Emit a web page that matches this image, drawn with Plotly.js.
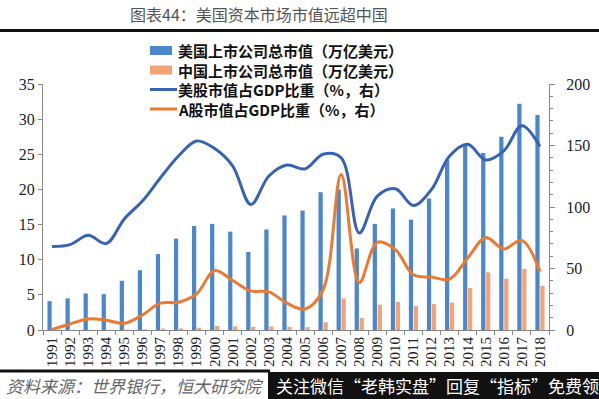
<!DOCTYPE html>
<html>
<head>
<meta charset="utf-8">
<script src="https://cdn.plot.ly/plotly-3.0.1.min.js"></script>
<style>html,body{margin:0;padding:0;background:#fff;}#chart{width:599px;height:399px;}</style>
</head>
<body>
<div id="chart"></div>
<script>
const years = ['1991','1992','1993','1994','1995','1996','1997','1998','1999','2000','2001','2002','2003','2004','2005','2006','2007','2008','2009','2010','2011','2012','2013','2014','2015','2016','2017','2018'];
const usCap = [4.1,4.5,5.2,5.1,7.0,8.5,10.8,13.0,14.8,15.1,14.0,11.1,14.3,16.3,17.0,19.6,20.0,11.6,15.1,17.3,15.7,18.7,24.2,26.4,25.2,27.5,32.2,30.6];
const cnCap = [0.02,0.03,0.04,0.04,0.04,0.1,0.2,0.23,0.33,0.58,0.52,0.46,0.51,0.45,0.4,1.1,4.5,1.7,3.6,4.0,3.4,3.7,3.9,6.0,8.2,7.3,8.7,6.3];
const usRatio = [67.8,69.4,77,70.2,90.3,104.8,123.8,141.5,153.7,147.5,133.3,102,125.2,134.1,131,142.9,140,78.9,108.8,114.8,101.2,114.3,141.5,151,138.2,145.6,166,149.1];
const cnRatio = [0.5,4.9,9,7.9,5.4,12.2,21.8,22.6,29.4,48.4,40.2,31.8,31,21.8,17,32.7,126.5,38.6,71.3,65.3,44.9,43,41.4,58.5,75.1,65.9,72.9,47.6];
const seriesNames = ['美国上市公司总市值（万亿美元）','中国上市公司总市值（万亿美元）','美股市值占GDP比重（%，右）','A股市值占GDP比重（%，右）'];
const seriesColors = ['#4a87cc','#f3a374','#3763b3','#ec7a30'];
const titleText = '图表44：美国资本市场市值远超中国';
const sourceText = '资料来源：世界银行，恒大研究院';
const bannerText = '关注微信“老韩实盘”回复“指标”免费领';

// plot area in pixels
const L = 43, R = 549, T = 84, B = 330, W = 599, H = 399;
const px = x => (x - L) / (R - L);
const py = y => (B - y) / (B - T);

const serif = 'Liberation Serif, DejaVu Serif, serif';
const cjk = 'Noto Sans CJK SC, sans-serif';

const traces = [
  {type:'bar', name:seriesNames[0], x:years, y:usCap, marker:{color:seriesColors[0], line:{width:0}}},
  {type:'bar', name:seriesNames[1], x:years, y:cnCap, marker:{color:seriesColors[1], line:{width:0}}},
  {type:'scatter', mode:'lines', name:seriesNames[2], x:years, y:usRatio, yaxis:'y2', line:{color:seriesColors[2], width:3, shape:'spline', smoothing:1}},
  {type:'scatter', mode:'lines', name:seriesNames[3], x:years, y:cnRatio, yaxis:'y2', line:{color:seriesColors[3], width:3, shape:'spline', smoothing:1}}
];

// custom legend (layout only)
const legRows = [50.5, 70, 89.5, 109];
const legShapes = [];
const legAnns = [];
seriesNames.forEach((name, i) => {
  const yc = legRows[i];
  if (i < 2) {
    legShapes.push({type:'rect', xref:'paper', yref:'paper', x0:px(150), x1:px(172), y0:py(yc-4.5), y1:py(yc+4.5), fillcolor:seriesColors[i], line:{width:0}});
  } else {
    legShapes.push({type:'line', xref:'paper', yref:'paper', x0:px(150), x1:px(177), y0:py(yc), y1:py(yc), line:{color:seriesColors[i], width:3}});
  }
  legAnns.push({xref:'paper', yref:'paper', x:px(178), y:py(yc), xanchor:'left', yanchor:'middle', showarrow:false, borderpad:0, borderwidth:0, text:'<b>'+name+'</b>', font:{family:cjk, size:15, color:'#111'}});
});

const layout = {
  width:W, height:H,
  margin:{l:L, r:W-R, t:T, b:H-B, pad:0},
  paper_bgcolor:'#fff', plot_bgcolor:'#fff',
  showlegend:false,
  barmode:'group', bargap:0.45, bargroupgap:0.15,
  title:{text:titleText, font:{family:cjk, size:16, color:'#555'}, x:259/W, xanchor:'center', y:1-15/H, yanchor:'middle'},
  xaxis:{type:'category', tickangle:-90, showline:true, linecolor:'#888', linewidth:1, ticks:'outside', ticklen:4, tickcolor:'#888', tickson:'boundaries', tickfont:{family:serif, size:15, color:'#222'}, showgrid:false, zeroline:false, fixedrange:true},
  yaxis:{range:[0,35], dtick:5, showline:true, linecolor:'#888', linewidth:1, ticks:'outside', ticklen:4, tickcolor:'#888', tickfont:{family:serif, size:16, color:'#222'}, showgrid:false, zeroline:false},
  yaxis2:{range:[0,200], dtick:50, overlaying:'y', side:'right', showline:true, linecolor:'#888', linewidth:1, ticks:'outside', ticklen:5, tickcolor:'#888', minor:{dtick:10, ticks:'outside', ticklen:3, tickcolor:'#888'}, tickfont:{family:serif, size:16, color:'#222'}, showgrid:false, zeroline:false, ticklabelstandoff:8},
  shapes:[
    {type:'line', xref:'paper', yref:'paper', x0:px(0), x1:px(W), y0:py(30.5), y1:py(30.5), line:{color:'#111', width:3}},
    {type:'line', xref:'paper', yref:'paper', x0:px(0), x1:px(270), y0:py(371), y1:py(371), line:{color:'#111', width:3}},
    {type:'rect', xref:'paper', yref:'paper', x0:px(268), x1:px(W), y0:py(372), y1:py(H), fillcolor:'#111', line:{width:0}}
  ].concat(legShapes),
  annotations:[
    {xref:'paper', yref:'paper', x:px(4), y:py(385), xanchor:'left', yanchor:'middle', showarrow:false, text:'<i>'+sourceText+'</i>', font:{family:cjk, size:17, color:'#666'}},
    {xref:'paper', yref:'paper', x:px(274), y:py(385), xanchor:'left', yanchor:'middle', showarrow:false, text:bannerText, font:{family:cjk, size:17, color:'#fff'}}
  ].concat(legAnns)
};

Plotly.newPlot('chart', traces, layout, {staticPlot:true, displayModeBar:false});
</script>
</body>
</html>
